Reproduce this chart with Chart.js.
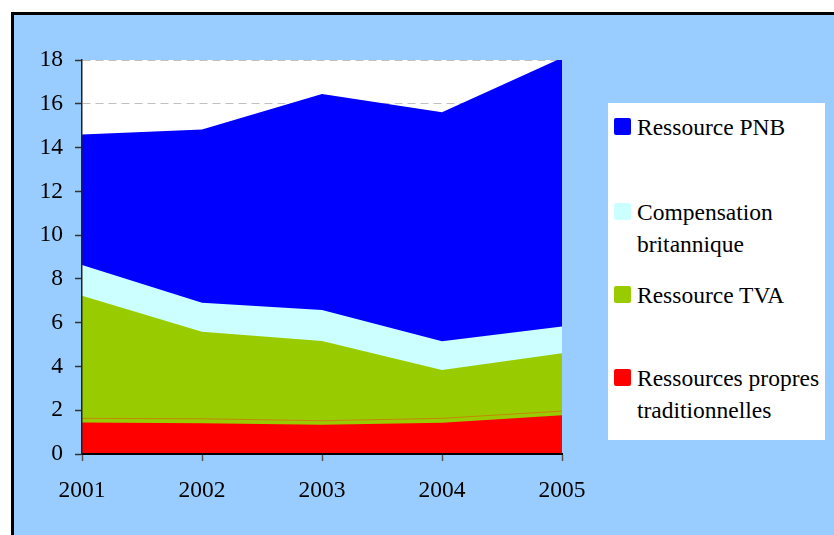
<!DOCTYPE html>
<html>
<head>
<meta charset="utf-8">
<script src="https://cdn.jsdelivr.net/npm/chart.js@4"></script>
<style>
html,body{margin:0;padding:0;background:#fff;width:834px;height:535px;overflow:hidden;}
#frame{position:absolute;left:11px;top:12px;width:830px;height:530px;background:#99CCFF;border-top:3px solid #000;border-left:3px solid #000;}
#c{position:absolute;left:0;top:0;}
#legend{position:absolute;left:608px;top:103px;width:217px;height:337px;background:#fff;font-family:"Liberation Serif","DejaVu Serif","Times New Roman",Times,serif;font-size:23.5px;line-height:32px;color:#000;}
.item{position:absolute;left:29px;white-space:nowrap;}
.sw{position:absolute;left:-23px;top:7px;width:17px;height:17px;border-radius:2px;}
</style>
</head>
<body>
<div id="frame"></div>
<canvas id="c" width="834" height="535"></canvas>
<div id="legend"></div>
<script>
// ---- data ----
const years = ['2001', '2002', '2003', '2004', '2005'];
const ressourcesTraditionnelles = [1.44, 1.40, 1.34, 1.43, 1.77];
const ressourceTVA = [5.79, 4.18, 3.82, 2.41, 2.83];
const compensationBritannique = [1.40, 1.33, 1.42, 1.31, 1.22];
const ressourcePNB = [5.97, 7.92, 9.87, 10.46, 12.28];
const bordTraditionnelles = [1.63, 1.61, 1.52, 1.63, 1.96]; // thin orange edge line
const yTickValues = [0, 2, 4, 6, 8, 10, 12, 14, 16, 18];

const seriesLabels = ['Ressources propres traditionnelles', 'Ressource TVA', 'Compensation britannique', 'Ressource PNB'];
const legendLines = [['Ressource PNB'], ['Compensation', 'britannique'], ['Ressource TVA'], ['Ressources propres', 'traditionnelles']];
const legendColors = ['#0000FF', '#CCFFFF', '#99CC00', '#FF0000'];
const legendTops = [8, 93, 175.5, 259];

const FONT = '"Liberation Serif", "DejaVu Serif", "Times New Roman", Times, serif';

function area(label, data, color) {
  return {
    label, data, stack: 'main', fill: 'origin',
    backgroundColor: color, borderColor: color, borderWidth: 0,
    pointRadius: 0, pointHoverRadius: 0, tension: 0, clip: false
  };
}

const plotBg = {
  id: 'plotBg',
  beforeDraw(chart) {
    const a = chart.chartArea, ctx = chart.ctx;
    ctx.save();
    ctx.fillStyle = '#FFFFFF';
    ctx.fillRect(a.left, a.top, a.right - a.left, a.bottom - a.top);
    ctx.restore();
  }
};

new Chart(document.getElementById('c'), {
  type: 'line',
  plugins: [plotBg],
  data: {
    labels: years,
    datasets: [
      area(seriesLabels[0], ressourcesTraditionnelles, '#FF0000'),
      area(seriesLabels[1], ressourceTVA, '#99CC00'),
      area(seriesLabels[2], compensationBritannique, '#CCFFFF'),
      area(seriesLabels[3], ressourcePNB, '#0000FF'),
      {
        label: 'edge', data: bordTraditionnelles, stack: 'edge', order: -1,
        fill: false, borderColor: 'rgba(204,120,0,0.8)', borderWidth: 1,
        pointRadius: 0, tension: 0
      }
    ]
  },
  options: {
    responsive: false,
    animation: false,
    devicePixelRatio: 1,
    layout: { padding: { left: 0, right: 272, top: 60, bottom: 0 } },
    plugins: { legend: { display: false }, tooltip: { enabled: false } },
    scales: {
      x: {
        offset: false,
        grid: { drawOnChartArea: false, drawTicks: true, tickLength: 7, tickColor: '#555', tickWidth: 1.5 },
        border: { display: true, color: '#000', width: 2, z: 1 },
        ticks: { color: '#000', font: { family: FONT, size: 23.5 }, padding: 16, maxRotation: 0 },
        afterFit: s => { s.height = 81; }
      },
      y: {
        stacked: true,
        min: 0, max: 18,
        afterBuildTicks: s => { s.ticks = yTickValues.map(v => ({ value: v })); },
        grid: { color: '#C0C0C0', lineWidth: 1, drawTicks: true, tickLength: 7, tickColor: '#333', tickWidth: 1.5, tickBorderDash: [] },
        border: { display: true, color: '#222', width: 1.5, dash: [8, 5], z: 1 },
        ticks: { color: '#000', font: { family: FONT, size: 23.5 }, padding: 12 },
        afterFit: s => { s.width = 82; }
      }
    }
  }
});

// HTML legend built from series
const lg = document.getElementById('legend');
legendLines.forEach((lines, i) => {
  const it = document.createElement('div');
  it.className = 'item';
  it.style.top = legendTops[i] + 'px';
  const sw = document.createElement('div');
  sw.className = 'sw';
  sw.style.background = legendColors[i];
  it.appendChild(sw);
  lines.forEach((t, k) => {
    if (k) it.appendChild(document.createElement('br'));
    it.appendChild(document.createTextNode(t));
  });
  lg.appendChild(it);
});
</script>
</body>
</html>
